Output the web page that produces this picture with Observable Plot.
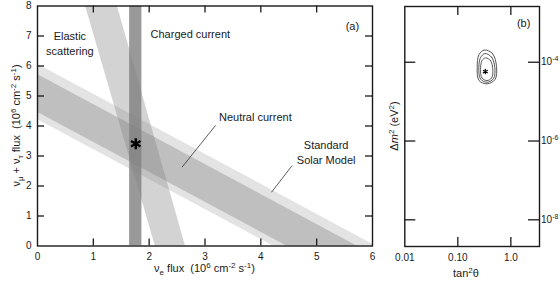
<!DOCTYPE html>
<html><head><meta charset="utf-8">
<script src="https://cdn.jsdelivr.net/npm/d3@7"></script>
<script src="https://cdn.jsdelivr.net/npm/@observablehq/plot@0.6"></script>
<style>
html,body{margin:0;padding:0;background:#fff;}
#wrap{position:relative;width:560px;height:283px;font-family:"Liberation Sans",Arial,sans-serif;}
#wrap svg{position:absolute;top:0;overflow:visible;}
</style></head><body><div id="wrap"></div>
<script>
// ---------- Panel (a): fluxes, 10^6 cm^-2 s^-1 ----------
// bands across the plot: value of the lower/upper edge at each end
const ssmBand = [{x: 0, lo: 4.22, hi: 6.06}, {x: 6, lo: -1.78, hi: 0.06}];
const ncBand  = [{x: 0, lo: 4.46, hi: 5.72}, {x: 6, lo: -1.54, hi: -0.28}];
const esBand  = [{y: 0, lo: 2.11, hi: 2.65}, {y: 8, lo: 0.86, hi: 1.43}];
const ccBand  = [{y: 0, lo: 1.65, hi: 1.87}, {y: 8, lo: 1.65, hi: 1.87}];
const bestFitA = [{x: 1.76, y: 3.41}];
const xTicksA = [0, 1, 2, 3, 4, 5, 6];
const yTicksA = [0, 1, 2, 3, 4, 5, 6, 7, 8];
const labelsCenteredA = [
  {x: 0.58, y: 6.79, text: "Elastic\nscattering"},
  {x: 5.17, y: 3.14, text: "Standard\nSolar Model"},
  {x: 5.64, y: 7.35, text: "(a)"}
];
const labelsLeftA = [
  {x: 2.025, y: 7.04, text: "Charged current"},
  {x: 3.25, y: 4.27, text: "Neutral current"}
];
const leadersA = [
  {x1: 3.19, y1: 4.02, x2: 2.59, y2: 2.63},
  {x1: 4.56, y1: 2.68, x2: 4.19, y2: 1.79}
];

// ---------- Panel (b): tan^2(theta) vs delta m^2 ----------
const contourOuter  = [[0.319,2.04e-4],[0.452,1.66e-4],[0.537,7.8e-5],[0.504,3.64e-5],[0.356,2.83e-5],[0.251,3.43e-5],[0.232,7.3e-5],[0.251,1.57e-4]];
const contourMiddle = [[0.325,1.66e-4],[0.433,1.35e-4],[0.499,7.3e-5],[0.472,3.86e-5],[0.356,3.1e-5],[0.268,3.75e-5],[0.249,7.3e-5],[0.268,1.31e-4]];
const contourInner  = [[0.333,1.29e-4],[0.414,1.1e-4],[0.457,6.5e-5],[0.433,3.97e-5],[0.356,3.43e-5],[0.286,3.97e-5],[0.268,6.5e-5],[0.286,1.1e-4]];
const bestFitB = [{x: 0.33, y: 5.8e-5}];
const xTicksB = [0.01, 0.1, 1];
const xTickLabelsB = ["0.01", "0.10", "1.0"];
const yTicksB = [1e-4, 1e-6, 1e-8];
const yTickExponentsB = ["-4", "-6", "-8"];
const labelsB = [{x: 1.74, y: 9.6e-4, text: "(b)"}];

const contours = [
  ...contourOuter.map(([x, y]) => ({x, y, level: "outer"})),
  ...contourMiddle.map(([x, y]) => ({x, y, level: "middle"})),
  ...contourInner.map(([x, y]) => ({x, y, level: "inner"}))
];

const H = 283;
const font = '"Liberation Sans", Arial, sans-serif';
const ink = "#1a1a1a";
const bandFill = "#808080";

// ----- Panel (a) -----
const W1 = 385;
const mA = {top: 5.5, right: 13, bottom: 37.5, left: 37};
const innerHA = H - mA.top - mA.bottom;
const innerWA = W1 - mA.left - mA.right;
const innerXA = xTicksA.slice(1, -1);
const innerYA = yTicksA.slice(1, -1);

const plotA = Plot.plot({
  width: W1, height: H,
  marginTop: mA.top, marginRight: mA.right, marginBottom: mA.bottom, marginLeft: mA.left,
  x: {domain: [0, 6]},
  y: {domain: [0, 8]},
  style: {fontFamily: font, fontSize: "10px", color: ink, background: "transparent", overflow: "visible"},
  marks: [
    Plot.areaY(ssmBand, {x: "x", y1: "lo", y2: "hi", fill: bandFill, fillOpacity: 0.22, clip: true}),
    Plot.areaY(ncBand, {x: "x", y1: "lo", y2: "hi", fill: bandFill, fillOpacity: 0.36, clip: true}),
    Plot.areaX(esBand, {y: "y", x1: "lo", x2: "hi", fill: bandFill, fillOpacity: 0.35, clip: true}),
    Plot.areaX(ccBand, {y: "y", x1: "lo", x2: "hi", fill: bandFill, fillOpacity: 0.8, clip: true}),
    Plot.link(leadersA, {x1: "x1", y1: "y1", x2: "x2", y2: "y2", stroke: "#333", strokeWidth: 0.8}),
    Plot.text(labelsCenteredA, {x: "x", y: "y", text: "text", textAnchor: "middle", fontSize: 11, lineHeight: 1.36, fill: ink}),
    Plot.text(labelsLeftA, {x: "x", y: "y", text: "text", textAnchor: "start", fontSize: 11, fill: ink}),
    Plot.dot(bestFitA, {x: "x", y: "y", symbol: "asterisk", r: 5.2, stroke: "black", strokeWidth: 2.4}),
    Plot.tickX(innerXA, {x: d => d, insetTop: innerHA - 7, stroke: ink, strokeWidth: 1.3}),
    Plot.tickX(innerXA, {x: d => d, insetBottom: innerHA - 7, stroke: ink, strokeWidth: 1.3}),
    Plot.tickY(innerYA, {y: d => d, insetRight: innerWA - 7, stroke: ink, strokeWidth: 1.3}),
    Plot.tickY(innerYA, {y: d => d, insetLeft: innerWA - 7, stroke: ink, strokeWidth: 1.3}),
    Plot.frame({stroke: ink, strokeWidth: 1.4}),
    Plot.axisX({ticks: xTicksA, tickSize: 0, tickPadding: 7, label: null, tickFormat: d => String(d)}),
    Plot.axisY({ticks: yTicksA, tickSize: 0, tickPadding: 6, label: null, tickFormat: d => String(d)})
  ]
});
plotA.style.left = "0px";

// ----- Panel (b) -----
const W2 = 175;
const mB = {top: 6, right: 21, bottom: 37, left: 19.3};
const innerHB = H - mB.top - mB.bottom;
const innerWB = W2 - mB.left - mB.right;
const plotB = Plot.plot({
  width: W2, height: H,
  marginTop: mB.top, marginRight: mB.right, marginBottom: mB.bottom, marginLeft: mB.left,
  x: {type: "log", domain: [0.01, 3.47]},
  y: {type: "log", domain: [2.1e-9, 2.6e-3], axis: null},
  style: {fontFamily: font, fontSize: "10px", color: ink, background: "transparent", overflow: "visible"},
  marks: [
    Plot.line(contours, {x: "x", y: "y", z: "level", curve: "catmull-rom-closed", stroke: "#444", strokeWidth: 0.9}),
    Plot.dot(bestFitB, {x: "x", y: "y", symbol: "asterisk", r: 2.6, stroke: "black", strokeWidth: 1.1}),
    Plot.text(labelsB, {x: "x", y: "y", text: "text", fontSize: 11, fill: ink}),
    Plot.tickX(xTicksB.slice(1), {x: d => d, insetTop: innerHB - 9, stroke: ink, strokeWidth: 1.3}),
    Plot.tickX(xTicksB.slice(1), {x: d => d, insetBottom: innerHB - 9, stroke: ink, strokeWidth: 1.3}),
    Plot.tickY(yTicksB, {y: d => d, insetRight: innerWB - 11, stroke: ink, strokeWidth: 1.3}),
    Plot.tickY(yTicksB, {y: d => d, insetLeft: innerWB - 11, stroke: ink, strokeWidth: 1.3}),
    Plot.frame({stroke: ink, strokeWidth: 1.4}),
    Plot.axisX({ticks: xTicksB, tickSize: 0, tickPadding: 7, label: null,
      tickFormat: d => xTickLabelsB[xTicksB.indexOf(d)]})
  ]
});
plotB.style.left = W1 + "px";

const wrap = document.getElementById("wrap");
wrap.appendChild(plotA);
wrap.appendChild(plotB);

// rich text with sub/superscripts
function richText(svg, x, y, rotate, parts, anchor = "middle", size = 11) {
  const t = d3.select(svg).append("text")
    .attr("transform", `translate(${x},${y})` + (rotate ? ` rotate(${rotate})` : ""))
    .attr("text-anchor", anchor)
    .attr("font-family", font)
    .attr("font-size", size)
    .attr("fill", ink)
    .style("white-space", "pre");
  let shift = 0;
  for (const [s, kind, italic] of parts) {
    const target = kind === "sub" ? 3 : kind === "sup" ? -4 : 0;
    const sp = t.append("tspan").text(s).attr("dy", target - shift);
    if (kind) sp.attr("font-size", size - 3);
    if (italic) sp.attr("font-style", "italic");
    shift = target;
  }
}
richText(plotA, 20, mA.top + innerHA / 2, -90, [
  ["\u03BD"], ["\u03BC", "sub"], [" + \u03BD"], ["\u03C4", "sub"], [" flux  (10"], ["6", "sup"],
  [" cm"], ["-2", "sup"], [" s"], ["-1", "sup"], [")"]
]);
richText(plotA, mA.left + innerWA / 2, 272, 0, [
  ["\u03BD"], ["e", "sub"], [" flux  (10"], ["6", "sup"], [" cm"], ["-2", "sup"], [" s"], ["-1", "sup"], [")"]
]);
richText(plotB, 13, mB.top + innerHB / 2, -90, [
  ["\u0394"], ["m", null, true], ["2", "sup"], [" (eV"], ["2", "sup"], [")"]
]);
richText(plotB, 81, 277, 0, [
  ["tan"], ["2", "sup"], ["\u03B8"]
]);
// right-hand tick labels of panel (b), placed through the y scale
const yB = plotB.scale("y");
yTicksB.forEach((v, i) => {
  richText(plotB, W2 - mB.right + 2, yB.apply(v) + 3.5, 0,
    [["10"], [yTickExponentsB[i], "sup"]], "start", 10);
});
</script></body></html>
